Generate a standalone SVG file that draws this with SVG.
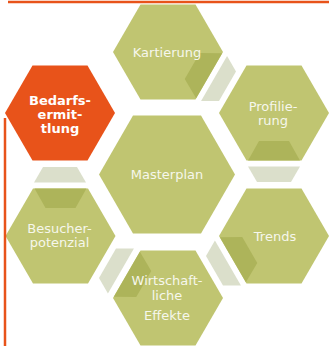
<svg xmlns="http://www.w3.org/2000/svg" xmlns:xlink="http://www.w3.org/1999/xlink" width="329" height="346" viewBox="0 0 329 346">
<style>
.hex{fill:#c0c571}
.hexo{fill:#e8531a}
.dark{fill:#adb45a}
.gray{fill:#dbdfcb}
.lbl{font-family:"DejaVu Sans","Verdana",sans-serif;font-size:13px;fill:#f6f7ec;text-anchor:middle}
.bold{font-weight:bold;fill:#ffffff}
.rule{stroke:#e8531a;stroke-width:2.5;fill:none}
</style>
<defs>
<polygon id="hex" points="-55,0 -27.5,-47.5 27.5,-47.5 55,0 27.5,47.5 -27.5,47.5"/>
<polygon id="darkpart" points="-15,28 15,28 26,47.5 -26,47.5"/>
<polygon id="graypart" points="-26,-8 26,-8 17,7.5 -17,7.5"/>
</defs>
<rect width="329" height="346" fill="#ffffff"/>
<g id="connectors">
<use xlink:href="#graypart" class="gray" transform="translate(221,82.5) rotate(-60)"/>
<use xlink:href="#graypart" class="gray" transform="translate(274,174.5)"/>
<use xlink:href="#graypart" class="gray" transform="translate(221,267) rotate(60)"/>
<use xlink:href="#graypart" class="gray" transform="translate(114,267) rotate(120)"/>
<use xlink:href="#graypart" class="gray" transform="translate(60,174.5) rotate(180)"/>
</g>
<g id="kartierung" transform="translate(168,52)">
<use xlink:href="#hex" class="hex"/>
<use xlink:href="#darkpart" class="dark" transform="rotate(-60)"/>
<text class="lbl" x="-1" y="4.5">Kartierung</text>
</g>
<g id="bedarfsermittlung" transform="translate(60,113)">
<use xlink:href="#hex" class="hexo"/>
<text class="lbl bold" x="0" y="-8">Bedarfs-</text>
<text class="lbl bold" x="0" y="6">ermit-</text>
<text class="lbl bold" x="0" y="20">tlung</text>
</g>
<g id="profilierung" transform="translate(274,113)">
<use xlink:href="#hex" class="hex"/>
<use xlink:href="#darkpart" class="dark"/>
<text class="lbl" x="-1" y="-2">Profilie-</text>
<text class="lbl" x="-1" y="12">rung</text>
</g>
<g id="masterplan" transform="translate(167,174.5)">
<polygon class="hex" points="-68,0 -34,-59 34,-59 68,0 34,59 -34,59"/>
<text class="lbl" x="0" y="4.5">Masterplan</text>
</g>
<g id="besucherpotenzial" transform="translate(60.5,236)">
<use xlink:href="#hex" class="hex"/>
<use xlink:href="#darkpart" class="dark" transform="rotate(180)"/>
<text class="lbl" x="-1" y="-3">Besucher-</text>
<text class="lbl" x="-1" y="11">potenzial</text>
</g>
<g id="trends" transform="translate(274,236)">
<use xlink:href="#hex" class="hex"/>
<use xlink:href="#darkpart" class="dark" transform="rotate(60)"/>
<text class="lbl" x="1" y="5">Trends</text>
</g>
<g id="wirtschaftliche-effekte" transform="translate(168,298)">
<use xlink:href="#hex" class="hex"/>
<use xlink:href="#darkpart" class="dark" transform="rotate(120)"/>
<text class="lbl" x="-1" y="-13">Wirtschaft-</text>
<text class="lbl" x="-1" y="2">liche</text>
<text class="lbl" x="-1" y="22">Effekte</text>
</g>
<g id="rules">
<line class="rule" x1="8" y1="2" x2="329" y2="2"/>
<line class="rule" x1="5" y1="118" x2="5" y2="346" stroke-width="2"/>
</g>
</svg>
